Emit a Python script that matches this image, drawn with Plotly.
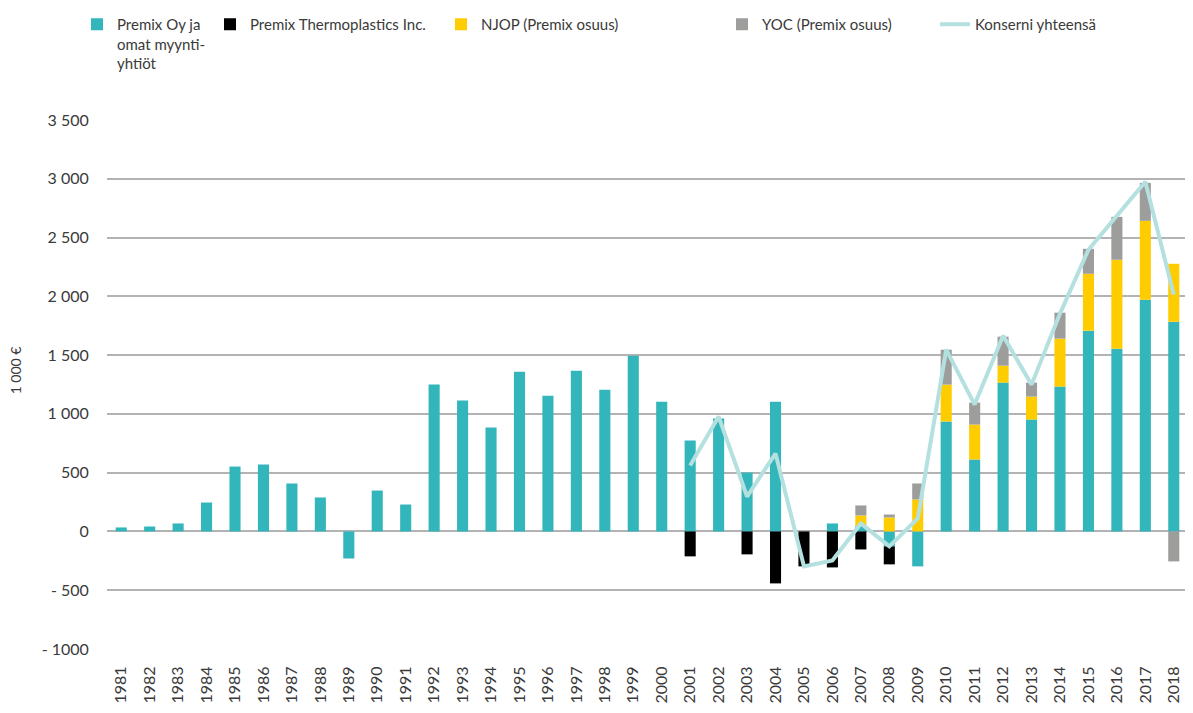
import plotly.graph_objects as go

years = [str(y) for y in range(1981, 2019)]

# 1 000 € per vuosi, luettu kuvasta
premix_oy = [34, 42, 68, 246, 552, 570, 408, 289, -230, 348, 229,
             1249, 1113, 884, 1359, 1155, 1368, 1206, 1495, 1104,
             773, 960, 501, 1104, 0, 68, 51, -127, -297,
             935, 612, 1266, 952, 1232, 1708, 1555, 1971, 1784]
thermoplastics = [0] * 20 + [-212, 0, -195, -442, -297, -306, -153, -153, 0,
                             0, 0, 0, 0, 0, 0, 0, 0, 0]
njop = [0] * 26 + [85, 119, 272, 314, 297, 144, 195, 408, 484, 756, 671, 493]
yoc = [0] * 26 + [85, 25, 136, 297, 187, 247, 119, 221, 212, 365, 323, -255]

line_years = years[20:]
konserni = [561, 977, 297, 663, -297, -246, 68, -127, 110,
            1546, 1079, 1665, 1249, 1853, 2396, 2680, 2974, 2014]

ytick_vals = [-1000, -500, 0, 500, 1000, 1500, 2000, 2500, 3000, 3500]
ytick_text = ["- 1000", "- 500", "0", "500", "1 000", "1 500", "2 000", "2 500", "3 000", "3 500"]

FONT = "Lato"
TXT = "#3a3a3a"
W, H = 1185, 705   # page body has an 8 px margin

fig = go.Figure()

bars = [
    ("Premix Oy ja<br>omat myynti-<br>yhtiöt", premix_oy, "#32b6bb", "legend2"),
    ("Premix Thermoplastics Inc.", thermoplastics, "#000000", "legend3"),
    ("NJOP (Premix osuus)", njop, "#ffcc00", "legend4"),
    ("YOC (Premix osuus)", yoc, "#9d9d9c", "legend5"),
]
for name, vals, col, leg in bars:
    fig.add_trace(go.Bar(x=years, y=vals, name=name, marker_color=col,
                         marker_line_width=0, legend=leg))

fig.add_trace(go.Scatter(x=line_years, y=konserni, name="Konserni yhteensä",
                         mode="lines", line=dict(color="#b4e0e0", width=4),
                         legend="legend6"))

# one legend per item so each can sit where the original puts it
legend_pos = {"legend2": 69, "legend3": 202, "legend4": 433, "legend5": 714, "legend6": 927}
layouts = {}
for key, lx in legend_pos.items():
    layouts[key] = dict(x=lx / W, y=1, xref="container", yref="container",
                        xanchor="left", yanchor="top", valign="top",
                        bgcolor="rgba(0,0,0,0)",
                        font=dict(family=FONT, size=15, color=TXT))

fig.update_layout(
    width=W, height=H,
    barmode="relative", bargap=0.61,
    plot_bgcolor="white", paper_bgcolor="white",
    margin=dict(l=99, r=5, t=112, b=64, autoexpand=False),
    font=dict(family=FONT, color=TXT),
    xaxis=dict(type="category", tickangle=-90, showgrid=False,
               ticks="outside", ticklen=10, tickcolor="white",
               tickfont=dict(size=16, color=TXT), showline=False),
    yaxis=dict(range=[-1000, 3500], tickvals=ytick_vals, ticktext=ytick_text,
               showgrid=True, gridcolor="#b3b3b3", gridwidth=2,
               zeroline=True, zerolinecolor="#b3b3b3", zerolinewidth=2,
               ticks="outside", ticklen=14, tickcolor="white",
               tickfont=dict(size=16, color=TXT)),
    annotations=[dict(text="1 000 €", xref="paper", yref="paper", x=-0.085,
                      xanchor="center", y=0.527, yanchor="middle", textangle=-90,
                      showarrow=False, font=dict(size=14, color=TXT))],
    **layouts,
)

fig.write_html("out.html")
